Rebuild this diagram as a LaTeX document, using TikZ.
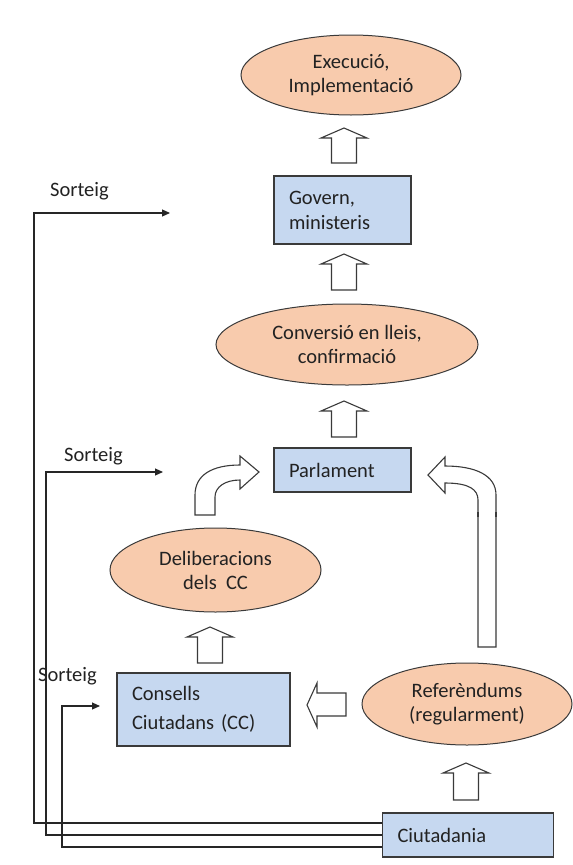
\documentclass[tikz,border=0pt]{standalone}
\usepackage{fontspec}
\setmainfont{Carlito}
\usetikzlibrary{shapes.geometric,arrows.meta}
\definecolor{peach}{HTML}{F8CBAD}
\definecolor{boxblue}{HTML}{C6D8F0}
\definecolor{edge}{HTML}{3A3A3A}
\definecolor{txt}{HTML}{222222}
\newcommand{\uparr}[3]{%
  \draw[blockarrow] (#1-12.5,#2) -- (#1-12.5,#3+10) -- (#1-23,#3+10) -- (#1,#3)
    -- (#1+23,#3+10) -- (#1+12.5,#3+10) -- (#1+12.5,#2) -- cycle;}
\begin{document}
\begin{tikzpicture}[x=1pt,y=-1pt,
  every node/.style={font=\fontsize{20.5}{24}\selectfont, text=txt},
  oval/.style={ellipse, draw=edge, line width=1pt, fill=peach, inner sep=0pt, align=center},
  box/.style={rectangle, draw=edge, line width=1.1pt, fill=boxblue, inner xsep=15pt, inner ysep=0pt, align=left},
  blockarrow/.style={draw=edge, line width=1.1pt, fill=white, line join=miter},
  link/.style={draw=black!85, line width=1.1pt},
  tip/.style={-{Triangle[length=8pt,width=7pt]}},
  lbl/.style={anchor=west, inner sep=0pt}
]
\useasboundingbox (0,0) rectangle (573,865);

% ovals
\node[oval, minimum width=220pt, minimum height=80pt] (exe) at (351,75) {Execució,\\Implementació};
\node[oval, minimum width=262pt, minimum height=81pt] (conv) at (347,344.5) {Conversió en lleis,\\confirmació};
\node[oval, minimum width=211pt, minimum height=84pt] (delib) at (215.5,570) {Deliberacions\\dels\ \ CC};
\node[oval, minimum width=210pt, minimum height=82pt] (ref) at (467,704) {Referèndums\\(regularment)};

% boxes
\node[box, minimum width=137pt, minimum height=68pt, text width=107pt, font=\fontsize{20.5}{25}\selectfont] (gov) at (342.5,210) {Govern,\\ministeris};
\node[box, minimum width=137pt, minimum height=44pt, text width=107pt] (parl) at (342.5,470) {Parlament};
\node[box, minimum width=173pt, minimum height=73pt, text width=143pt, font=\fontsize{20.5}{29}\selectfont] (cons) at (203.5,709.5) {Consells\\Ciutadans (CC)};
\node[box, minimum width=171pt, minimum height=44pt, text width=141pt] (ciu) at (468,835) {Ciutadania};

% block arrows
\uparr{344}{163}{128}
\uparr{344}{290}{254}
\uparr{344}{437}{401}
\uparr{210}{663}{627}
\uparr{466}{800}{763}
\draw[blockarrow] (346,693) -- (317,693) -- (317,683) -- (307,705) -- (317,727) -- (317,716) -- (346,716) -- cycle;
\draw[blockarrow] (195,515) -- (195,495) .. controls (195,475) and (212,465) .. (240,465)
  -- (240,456) -- (259,472) -- (240,489) -- (240,480)
  .. controls (225,480) and (215,487) .. (215,497) -- (215,515) -- cycle;
\draw[blockarrow] (445,466) .. controls (475,466) and (496,475) .. (496,495) -- (496,647)
  -- (478,647) -- (478,500) .. controls (478,490) and (470,483) .. (445,483)
  -- (445,493) -- (428,475) -- (445,457) -- cycle;
\draw[edge, line width=2pt] (478,512) -- (478,517);
\draw[edge, line width=2pt] (496,512) -- (496,517);

% Sorteig labels
\node[lbl] (s1) at (50,191) {Sorteig};
\node[lbl] (s2) at (64,456) {Sorteig};
\node[lbl] (s3) at (38,676) {Sorteig};

% connectors
\coordinate (t1) at (170,213);
\coordinate (t2) at (163,472);
\coordinate (t3) at (100,706);
\draw[link, tip] ([yshift=12pt]ciu.west) -| (34,213) -- (t1);
\draw[link, tip] (ciu.west) -| (46,472) -- (t2);
\draw[link, tip] ([yshift=-12pt]ciu.west) -| (62,706) -- (t3);
\end{tikzpicture}
\end{document}
